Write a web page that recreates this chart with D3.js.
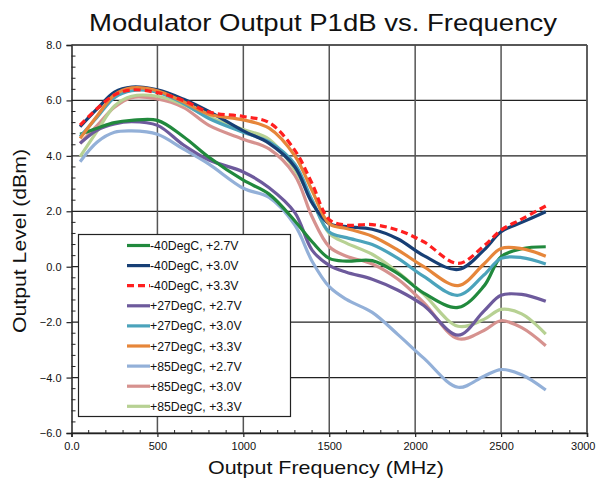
<!DOCTYPE html>
<html>
<head>
<meta charset="utf-8">
<script src="https://cdn.jsdelivr.net/npm/d3@7"></script>
<style>
html,body{margin:0;padding:0;background:#fff;}
svg{display:block;}
text{font-family:"Liberation Sans",Arial,sans-serif;fill:#111;}
</style>
</head>
<body>
<svg id="chart" width="596" height="483"></svg>
<script>
// ---- data ----
const freqs = [50, 150, 250, 350, 500, 650, 800, 1000, 1150, 1300, 1400, 1500, 1600, 1750, 1900, 2050, 2250, 2400, 2500, 2620, 2760];

const seriesNames = ["-40DegC, +2.7V", "-40DegC, +3.0V", "-40DegC, +3.3V",
                     "+27DegC, +2.7V", "+27DegC, +3.0V", "+27DegC, +3.3V",
                     "+85DegC, +2.7V", "+85DegC, +3.0V", "+85DegC, +3.3V"];

const m40_27 = [4.78, 5.00, 5.20, 5.28, 5.28, 4.70, 3.95, 3.12, 2.62, 1.65, 0.90, 0.30, 0.20, 0.22, -0.25, -0.95, -1.47, -0.70, 0.36, 0.65, 0.72];
const m40_30 = [5.05, 5.70, 6.30, 6.48, 6.38, 6.05, 5.60, 4.90, 4.45, 3.60, 2.30, 1.55, 1.45, 1.35, 1.00, 0.40, -0.10, 0.60, 1.26, 1.60, 1.98];
const m40_33 = [5.11, 5.71, 6.20, 6.38, 6.28, 6.00, 5.58, 5.42, 5.20, 4.20, 3.00, 1.70, 1.50, 1.52, 1.32, 0.90, 0.12, 0.75, 1.32, 1.72, 2.19];
const p27_27 = [4.45, 4.93, 5.15, 5.23, 5.10, 4.40, 3.85, 3.42, 2.85, 1.95, 0.60, 0.05, -0.20, -0.45, -0.85, -1.40, -2.47, -1.60, -1.03, -1.00, -1.25];
const p27_30 = [4.70, 5.40, 6.10, 6.35, 6.30, 5.90, 5.35, 4.85, 4.50, 3.70, 2.40, 1.25, 1.05, 0.80, 0.30, -0.35, -1.03, -0.30, 0.30, 0.33, 0.10];
const p27_33 = [4.63, 5.45, 6.20, 6.45, 6.35, 5.95, 5.50, 5.30, 5.00, 4.00, 2.75, 1.55, 1.38, 1.10, 0.60, 0.00, -0.68, 0.10, 0.66, 0.65, 0.38];
const p85_27 = [3.79, 4.50, 4.85, 4.90, 4.78, 4.25, 3.70, 2.83, 2.50, 1.50, 0.20, -0.72, -1.18, -1.65, -2.45, -3.30, -4.35, -3.95, -3.71, -3.90, -4.45];
const p85_30 = [4.45, 5.10, 5.75, 6.10, 6.05, 5.75, 5.10, 4.60, 4.25, 3.30, 1.80, 0.72, 0.38, 0.10, -0.45, -1.30, -2.60, -2.30, -1.95, -2.20, -2.85];
const p85_33 = [3.97, 4.90, 5.80, 6.15, 6.15, 5.85, 5.40, 4.95, 4.60, 3.50, 2.40, 1.20, 0.85, 0.45, -0.20, -1.00, -2.15, -1.90, -1.54, -1.70, -2.43];

const seriesValues = [m40_27, m40_30, m40_33, p27_27, p27_30, p27_33, p85_27, p85_30, p85_33];
const seriesColors = ["#21893d", "#173f75", "#ff1f1f", "#6d5a9c", "#4ba3bb", "#e6863a", "#93b0d8", "#d6928f", "#b7d193"];
const seriesDash = [null, null, "7,4", null, null, null, null, null, null];

const yTicks = [8, 6, 4, 2, 0, -2, -4, -6];
const xTicks = [0, 500, 1000, 1500, 2000, 2500, 3000];
const xTickLabels = ["0.0", "500", "1000", "1500", "2000", "2500", "3000"];

const titleText = "Modulator Output P1dB vs. Frequency";
const xTitle = "Output Frequency (MHz)";
const yTitle = "Output Level (dBm)";

// ---- layout ----
const svg = d3.select("#chart");
const L = 71.5, R = 587, T = 45, B = 433;
const x = d3.scaleLinear().domain([0, 3000]).range([L, R]);
const y = d3.scaleLinear().domain([-6, 8]).range([B, T]);

svg.append("rect").attr("width", 596).attr("height", 483).attr("fill", "#fff");

// gridlines
svg.append("g").selectAll("line").data(yTicks).join("line")
  .attr("x1", L).attr("x2", R).attr("y1", d => y(d)).attr("y2", d => y(d))
  .attr("stroke", "#222").attr("stroke-width", 1.2);
svg.append("g").selectAll("line").data(xTicks.slice(1)).join("line")
  .attr("x1", d => x(d)).attr("x2", d => x(d)).attr("y1", T).attr("y2", B)
  .attr("stroke", "#555").attr("stroke-width", 1.5);

// axes
const yAxis = d3.axisLeft(y).tickValues(yTicks).tickSize(5).tickFormat(d3.format(".1f"));
const gy = svg.append("g").attr("transform", `translate(${L},0)`).call(yAxis);
gy.select(".domain").attr("stroke", "#222").attr("stroke-width", 1.5);
gy.selectAll(".tick line").attr("stroke", "#222").attr("stroke-width", 1.2);
gy.selectAll(".tick text").attr("font-size", 11).attr("x", -10).attr("fill", "#333")
  .style("font-family", "'Liberation Sans', Arial, sans-serif");

const yMinor = d3.range(-6, 8.001, 0.4).filter(v => Math.abs(v / 2 - Math.round(v / 2)) > 0.01);
svg.append("g").selectAll("line").data(yMinor).join("line")
  .attr("x1", L).attr("x2", L + 4).attr("y1", d => y(d)).attr("y2", d => y(d))
  .attr("stroke", "#222").attr("stroke-width", 1);

const xAxis = d3.axisBottom(x).tickValues(xTicks).tickSize(4).tickFormat((d, i) => xTickLabels[i]);
const gx = svg.append("g").attr("transform", `translate(0,${B})`).call(xAxis);
gx.select(".domain").attr("stroke", "#222").attr("stroke-width", 1.5);
gx.selectAll(".tick line").attr("stroke", "#222").attr("stroke-width", 1.2);
gx.selectAll(".tick text").attr("font-size", 11).attr("y", 9).attr("fill", "#333")
  .style("font-family", "'Liberation Sans', Arial, sans-serif");
gx.selectAll(".tick text").filter(d => d === 3000).attr("text-anchor", "end").attr("x", 8);

const xMinor = d3.range(100, 3000, 100).filter(v => v % 500 !== 0);
svg.append("g").selectAll("line").data(xMinor).join("line")
  .attr("x1", d => x(d)).attr("x2", d => x(d)).attr("y1", B).attr("y2", B - 3)
  .attr("stroke", "#222").attr("stroke-width", 1);

// top/right border
svg.append("line").attr("x1", L).attr("x2", R).attr("y1", T).attr("y2", T).attr("stroke", "#444").attr("stroke-width", 1.5);
svg.append("line").attr("x1", R).attr("x2", R).attr("y1", T).attr("y2", B).attr("stroke", "#555").attr("stroke-width", 1.5);

// series
const line = d3.line().x((d, i) => x(freqs[i])).y(d => y(d)).curve(d3.curveCatmullRom.alpha(0.5));
const drawOrder = [6, 7, 8, 3, 0, 4, 1, 5, 2];
drawOrder.forEach(k => {
  svg.append("path").datum(seriesValues[k]).attr("d", line)
    .attr("fill", "none").attr("stroke", seriesColors[k]).attr("stroke-width", 3.2)
    .attr("stroke-linejoin", "round")
    .attr("stroke-dasharray", seriesDash[k]);
});

// legend
const lg = svg.append("g");
lg.append("rect").attr("x", 78.5).attr("y", 234.5).attr("width", 212).attr("height", 182)
  .attr("fill", "#fff").attr("stroke", "#222").attr("stroke-width", 1.2);
seriesNames.forEach((name, i) => {
  const yy = 245.5 + i * 20.1;
  lg.append("line").attr("x1", 127).attr("x2", 150).attr("y1", yy).attr("y2", yy)
    .attr("stroke", seriesColors[i]).attr("stroke-width", 3.2).attr("stroke-dasharray", seriesDash[i]);
  lg.append("text").attr("x", 150).attr("y", yy + 4.5).attr("font-size", 12.3).attr("fill", "#222").text(name);
});

// titles
svg.append("text").attr("x", 323).attr("y", 31).attr("text-anchor", "middle")
  .attr("font-size", 24).attr("textLength", 468).attr("lengthAdjust", "spacingAndGlyphs").text(titleText);
svg.append("text").attr("x", 326).attr("y", 474).attr("text-anchor", "middle")
  .attr("font-size", 19).attr("textLength", 236).attr("lengthAdjust", "spacingAndGlyphs").text(xTitle);
svg.append("text").attr("transform", "translate(26,241) rotate(-90)").attr("text-anchor", "middle")
  .attr("font-size", 19).attr("textLength", 184).attr("lengthAdjust", "spacingAndGlyphs").text(yTitle);
</script>
</body>
</html>
